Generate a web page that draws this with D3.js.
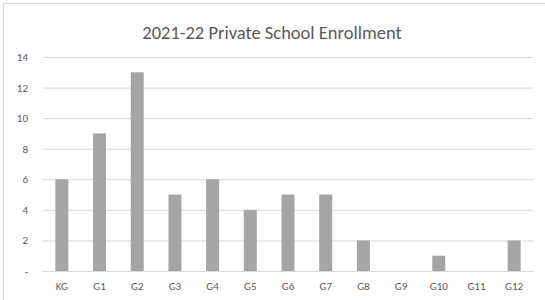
<!DOCTYPE html>
<html>
<head>
<meta charset="utf-8">
<script src="https://cdn.jsdelivr.net/npm/d3@7"></script>
<style>
  html, body { margin: 0; padding: 0; background: #fff; }
  svg { display: block; }
</style>
</head>
<body>
<svg id="chart" width="545" height="300"></svg>
<script>
const categories = ["KG","G1","G2","G3","G4","G5","G6","G7","G8","G9","G10","G11","G12"];
const enrollment = [6, 9, 13, 5, 6, 4, 5, 5, 2, 0, 1, 0, 2];
const yTicks = [0, 2, 4, 6, 8, 10, 12, 14];
const yTickLabels = ["-", "2", "4", "6", "8", "10", "12", "14"];
const title = "2021-22 Private School Enrollment";

const font = "Carlito, Calibri, Lato, 'Open Sans', sans-serif";
const svg = d3.select("#chart");
const W = 545, H = 300;
const m = {left: 43, right: 12, top: 57, bottom: 29};

svg.append("rect").attr("x", 3.5).attr("y", 3.5).attr("width", 600).attr("height", 400)
  .attr("fill", "#fff").attr("stroke", "#d9d9d9").attr("stroke-width", 1);

const x = d3.scaleBand().domain(categories).range([m.left, W - m.right]).paddingInner(0.655).paddingOuter(0.3275);
const y = d3.scaleLinear().domain([0, 14]).range([H - m.bottom, m.top]);

// gridlines
const yAxis = d3.axisLeft(y).tickValues(yTicks).tickSize(-(W - m.right - m.left)).tickPadding(15)
  .tickFormat((d, i) => yTickLabels[i]);
const gy = svg.append("g").attr("transform", `translate(${m.left},0)`).call(yAxis);
gy.select(".domain").remove();
gy.selectAll(".tick line").attr("stroke", "#d9d9d9").attr("stroke-width", 1);
gy.selectAll(".tick text").attr("fill", "#595959").style("font-family", font).style("font-size", "11px");

// bars
svg.append("g").selectAll("rect").data(enrollment).join("rect")
  .attr("x", (d, i) => x(categories[i]))
  .attr("width", x.bandwidth())
  .attr("y", d => y(d))
  .attr("height", d => y(0) - y(d))
  .attr("fill", "#a5a5a5");

// x axis
const xAxis = d3.axisBottom(x).tickSize(0).tickPadding(11);
const gx = svg.append("g").attr("transform", `translate(0,${y(0)})`).call(xAxis);
gx.select(".domain").attr("stroke", "#d9d9d9");
gx.selectAll(".tick text").attr("fill", "#595959").style("font-family", font).style("font-size", "11px");

svg.append("text").attr("x", 272).attr("y", 39).attr("text-anchor", "middle")
  .attr("fill", "#595959").style("font-family", font).style("font-size", "18.5px").text(title);
</script>
</body>
</html>
